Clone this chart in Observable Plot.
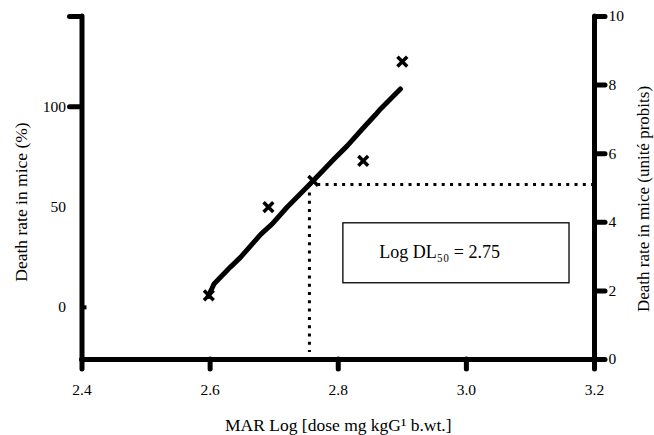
<!DOCTYPE html>
<html><head><meta charset="utf-8">
<script src="https://cdn.jsdelivr.net/npm/d3@7"></script>
<script src="https://cdn.jsdelivr.net/npm/@observablehq/plot@0.6"></script>
<style>
body{margin:0;background:#fff}
svg{display:block}
</style>
</head><body><div id="chart"></div>
<script>
// Axis ticks
const xTicks = [2.4, 2.6, 2.8, 3.0, 3.2];
const leftTicks = [0, 50, 100];
const probitTicks = [0, 2, 4, 6, 8, 10];
const yMin = -26, yMax = 145;

// Observed points (x markers)
const pointLog = [2.598, 2.691, 2.761, 2.839, 2.900];
const pointPct = [6, 50, 63, 73, 122.5];

// Fitted line (read along the drawn stroke)
const fitLog = [2.597, 2.603, 2.606, 2.632, 2.647, 2.679, 2.697, 2.720, 2.754, 2.777, 2.793, 2.814, 2.840, 2.858, 2.866, 2.897];
const fitPct = [5.5, 9.5, 11.7, 20.2, 24.8, 36.4, 41.6, 49.9, 60.9, 68.5, 73.8, 80.5, 89.8, 96.0, 98.9, 108.9];

// LD50 guide and annotation
const ld50Log = 2.755, ld50Pct = 61.2, guideBottom = -22.5;
const boxX = [2.808, 3.161], boxY = [12.0, 41.9];
const noteX = 2.864, notePct = 27.3;
const noteText = "Log DL\u2085\u2080 = 2.75";

const probitToPct = p => yMin + p * (yMax - yMin) / 10;

const points = pointLog.map((x, i) => ({x, y: pointPct[i]}));
const fit = fitLog.map((x, i) => ({x, y: fitPct[i]}));

const serif = "'Liberation Serif', 'Times New Roman', serif";
const noText = () => "";

const chart = Plot.plot({
  width: 654,
  height: 435,
  marginLeft: 81.5,
  marginRight: 60,
  marginTop: 16,
  marginBottom: 76,
  style: {fontFamily: serif, fontSize: "15px", color: "black", background: "white"},
  x: {domain: [2.4, 3.2]},
  y: {domain: [yMin, yMax]},
  marks: [
    // dotted LD50 guides
    Plot.ruleY([ld50Pct], {x1: ld50Log, x2: 3.2, strokeWidth: 3, strokeDasharray: "3,5.3"}),
    Plot.ruleX([ld50Log], {y1: ld50Pct, y2: guideBottom, strokeWidth: 3, strokeDasharray: "3,5.3"}),
    // annotation box
    Plot.rect([{x1: boxX[0], x2: boxX[1], y1: boxY[0], y2: boxY[1]}], {x1: "x1", x2: "x2", y1: "y1", y2: "y2", fill: "none", stroke: "black", strokeWidth: 1.3}),
    Plot.text([noteText], {x: noteX, y: notePct, textAnchor: "start", fontSize: 18, fontFamily: serif}),
    // fitted line
    Plot.line(fit, {x: "x", y: "y", strokeWidth: 5, strokeLinecap: "round", strokeLinejoin: "round"}),
    // points
    Plot.dot(points, {x: "x", y: "y", symbol: "times", r: 4.5, stroke: "black", strokeWidth: 3.5}),
    // axis lines
    Plot.ruleY([yMin], {x1: 2.4, x2: 3.2, strokeWidth: 5, strokeLinecap: "round"}),
    Plot.ruleX([2.4, 3.2], {y1: yMin, y2: yMax, strokeWidth: 5, strokeLinecap: "round"}),
    // bottom axis ticks + labels
    Plot.axisX({ticks: xTicks, tickSize: 10, strokeWidth: 5, strokeLinecap: "round", tickFormat: noText, label: null}),
    Plot.text(xTicks, {x: d => d, frameAnchor: "bottom", dy: 31, lineAnchor: "middle", text: d3.format(".1f"), fontSize: 15.5, fontFamily: serif}),
    // left axis ticks + labels
    Plot.axisY({ticks: [100, yMax], tickSize: 12, strokeWidth: 5, strokeLinecap: "round", tickFormat: noText, label: null}),
    Plot.axisY({ticks: [0], tickSize: -5, strokeWidth: 4, tickFormat: noText, label: null}),
    Plot.text(leftTicks, {y: d => d, frameAnchor: "left", textAnchor: "end", lineAnchor: "middle", dx: -16, text: d => String(d), fontSize: 15.5, fontFamily: serif}),
    // right probit axis
    Plot.axisY({anchor: "right", ticks: probitTicks.map(probitToPct), tickSize: 10, strokeWidth: 5, strokeLinecap: "round", tickFormat: noText, label: null}),
    Plot.text(probitTicks, {y: probitToPct, frameAnchor: "right", textAnchor: "start", lineAnchor: "middle", dx: 14, text: d => String(d), fontSize: 15.5, fontFamily: serif}),
    // titles
    Plot.text(["Death rate in mice (%)"], {frameAnchor: "left", textAnchor: "middle", lineAnchor: "middle", rotate: -90, dx: -61, dy: 14, fontSize: 17.5, fontFamily: serif}),
    Plot.text(["Death rate in mice (unit\u00e9 probits)"], {frameAnchor: "right", textAnchor: "middle", lineAnchor: "middle", rotate: -90, dx: 49, dy: 11, fontSize: 17, fontFamily: serif}),
    Plot.text(["MAR Log [dose mg kgG\u00b9 b.wt.]"], {frameAnchor: "bottom", textAnchor: "middle", lineAnchor: "middle", dy: 66, fontSize: 17.5, fontFamily: serif})
  ]
});
document.getElementById("chart").append(chart);
</script>
</body></html>
